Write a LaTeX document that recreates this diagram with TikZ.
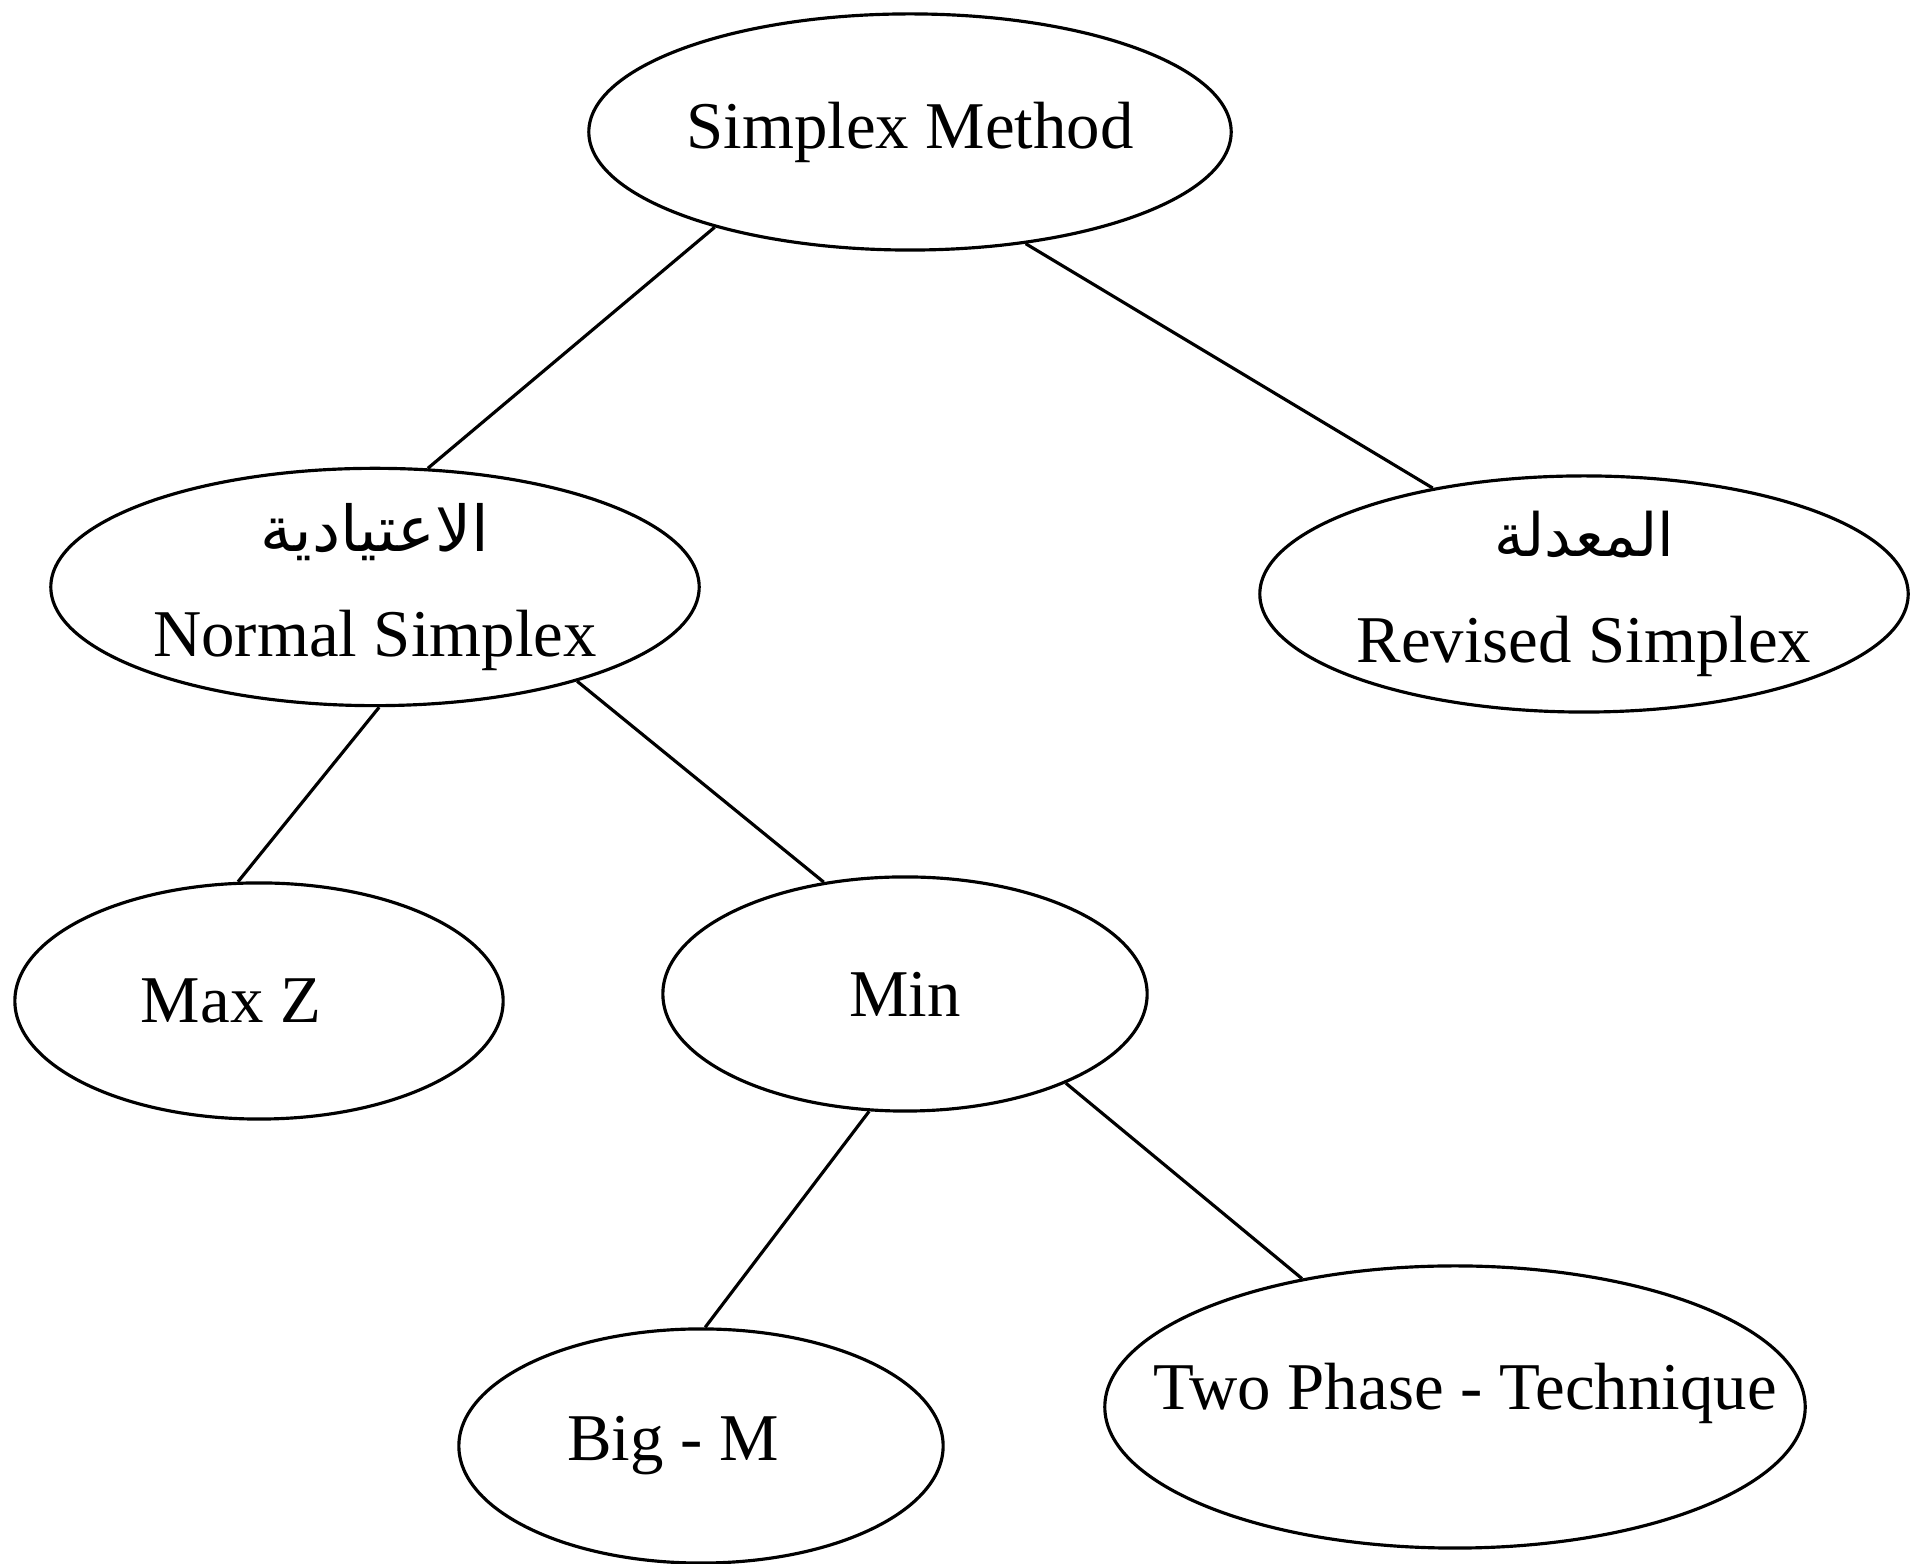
\documentclass[tikz,border=0pt]{standalone}
\usepackage{fontspec}
\setmainfont{Liberation Serif}
\newfontfamily\arabicfont[Script=Arabic]{DejaVu Sans}
\TeXXeTstate=1
\usetikzlibrary{shapes.geometric}

\begin{document}
\begin{tikzpicture}[x=0.01cm, y=0.01cm,
  every method/.style={draw, ellipse, line width=0.9pt, inner sep=0pt,
    align=center, font=\fontsize{19}{30}\selectfont},
  every label/.style={font=\fontsize{19}{30}\selectfont},
  link/.style={line width=0.9pt}]

\useasboundingbox (0,0) rectangle (1915,1564);

% root
\node [every method, minimum width=6.42cm, minimum height=2.36cm] (simplex) at (910,1432) {Simplex Method};

% second level
\node [every method, minimum width=6.48cm, minimum height=2.34cm] (normal) at (375,977)
  {{\arabicfont\fontsize{18}{30}\selectfont\beginR الاعتيادية\endR} \\ Normal Simplex};
\node [every method, minimum width=6.48cm, minimum height=2.36cm] (revised) at (1584,970)
  {{\arabicfont\fontsize{17}{30}\selectfont\beginR المعدلة\endR} \\ Revised Simplex};

% third level
\node [every method, minimum width=4.88cm, minimum height=2.36cm,
  label={[xshift=-0.28cm]center:Max Z}] (maxz) at (259,563) {};
\node [every method, minimum width=4.84cm, minimum height=2.34cm] (min) at (905,570) {Min};

% fourth level
\node [every method, minimum width=4.84cm, minimum height=2.34cm,
  label={[xshift=-0.28cm]center:Big - M}] (bigm) at (701,118) {};
\node [every method, minimum width=7.00cm, minimum height=2.82cm,
  label={[xshift=0.1cm, yshift=0.14cm]center:Two Phase - Technique}] (twophase) at (1455,157) {};

% Connections
\foreach \a/\b in {simplex.206/normal.66, simplex.-44/revised.145,
                   normal.-88/maxz.100, normal.-25/min.126,
                   min.-107/bigm.88, min.-29/twophase.140}
  \draw [link] (\a) -- (\b);

\end{tikzpicture}
\end{document}
